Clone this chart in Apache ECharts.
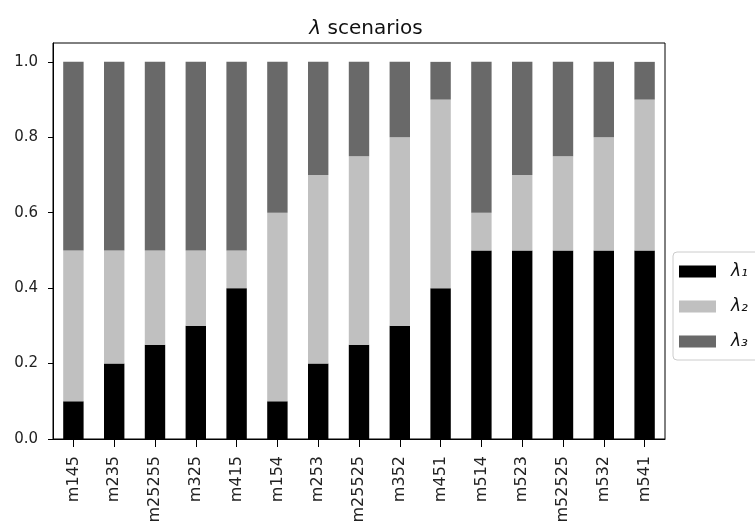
<!DOCTYPE html>
<html>
<head>
<meta charset="utf-8">
<script src="https://cdn.jsdelivr.net/npm/echarts@6/dist/echarts.min.js"></script>
<style>
  html, body { margin: 0; padding: 0; background: #fff; }
  #chart { width: 755px; height: 529px; }
</style>
</head>
<body>
<div id="chart"></div>
<script>
// Scenario names along the x axis
const categories = ['m145', 'm235', 'm25255', 'm325', 'm415', 'm154', 'm253', 'm25525',
                    'm352', 'm451', 'm514', 'm523', 'm52525', 'm532', 'm541'];
// Share of each lambda component per scenario (stacked to 1.0)
const lambda1 = [0.1, 0.2, 0.25, 0.3, 0.4, 0.1, 0.2, 0.25, 0.3, 0.4, 0.5, 0.5, 0.5, 0.5, 0.5];
const lambda2 = [0.4, 0.3, 0.25, 0.2, 0.1, 0.5, 0.5, 0.5, 0.5, 0.5, 0.1, 0.2, 0.25, 0.3, 0.4];
const lambda3 = [0.5, 0.5, 0.5, 0.5, 0.5, 0.4, 0.3, 0.25, 0.2, 0.1, 0.4, 0.3, 0.25, 0.2, 0.1];
const seriesNames = ['λ₁', 'λ₂', 'λ₃'];
const yTicks = [0, 0.2, 0.4, 0.6, 0.8, 1.0];

const FONT = 'DejaVu Sans';
const colors = ['#000000', '#c0c0c0', '#696969'];

const chart = echarts.init(document.getElementById('chart'), null, { renderer: 'canvas' });

const makeSeries = (name, data, color) => ({
  name: name,
  type: 'bar',
  stack: 'total',
  data: data,
  barWidth: '50%',
  itemStyle: { color: color },
  emphasis: { disabled: true }
});

chart.setOption({
  animation: false,
  backgroundColor: '#ffffff',
  textStyle: { fontFamily: FONT },
  title: {
    text: '{i|λ} scenarios',
    left: 361,
    textAlign: 'center',
    top: 14,
    textStyle: {
      fontFamily: FONT,
      fontSize: 20,
      fontWeight: 'normal',
      color: '#111',
      rich: {
        i: { fontFamily: FONT, fontSize: 20, fontStyle: 'italic', color: '#111' }
      }
    }
  },
  legend: {
    orient: 'vertical',
    left: 673,
    top: 252,
    data: seriesNames,
    itemWidth: 37,
    itemHeight: 12,
    itemGap: 18,
    padding: [11, 40, 10, 6],
    borderColor: '#cccccc',
    borderWidth: 1,
    borderRadius: 4,
    backgroundColor: '#ffffff',
    icon: 'rect',
    textStyle: {
      fontFamily: FONT,
      fontSize: 17,
      fontStyle: 'italic',
      color: '#111',
      lineHeight: 15,
      padding: [0, 0, 0, 10]
    }
  },
  grid: {
    left: 53,
    right: 90,
    top: 43,
    bottom: 90,
    show: true,
    borderColor: '#000',
    borderWidth: 1,
    containLabel: false
  },
  xAxis: {
    type: 'category',
    data: categories,
    boundaryGap: true,
    axisLine: { show: true, lineStyle: { color: '#000', width: 1 } },
    axisTick: { show: true, alignWithLabel: true, length: 8, lineStyle: { color: '#000' } },
    axisLabel: {
      rotate: 90,
      interval: 0,
      margin: 17,
      fontFamily: FONT,
      fontSize: 16,
      color: '#222'
    },
    splitLine: { show: false }
  },
  yAxis: {
    type: 'value',
    min: 0,
    max: 1.05,
    interval: 0.2,
    axisLine: { show: true, lineStyle: { color: '#000', width: 1 } },
    axisTick: { show: true, length: 5, customValues: yTicks, lineStyle: { color: '#000' } },
    axisLabel: {
      customValues: yTicks,
      margin: 15,
      fontFamily: FONT,
      fontSize: 15,
      color: '#222',
      formatter: v => v.toFixed(1)
    },
    splitLine: { show: false }
  },
  series: [
    makeSeries(seriesNames[0], lambda1, colors[0]),
    makeSeries(seriesNames[1], lambda2, colors[1]),
    makeSeries(seriesNames[2], lambda3, colors[2])
  ]
});
</script>
</body>
</html>
